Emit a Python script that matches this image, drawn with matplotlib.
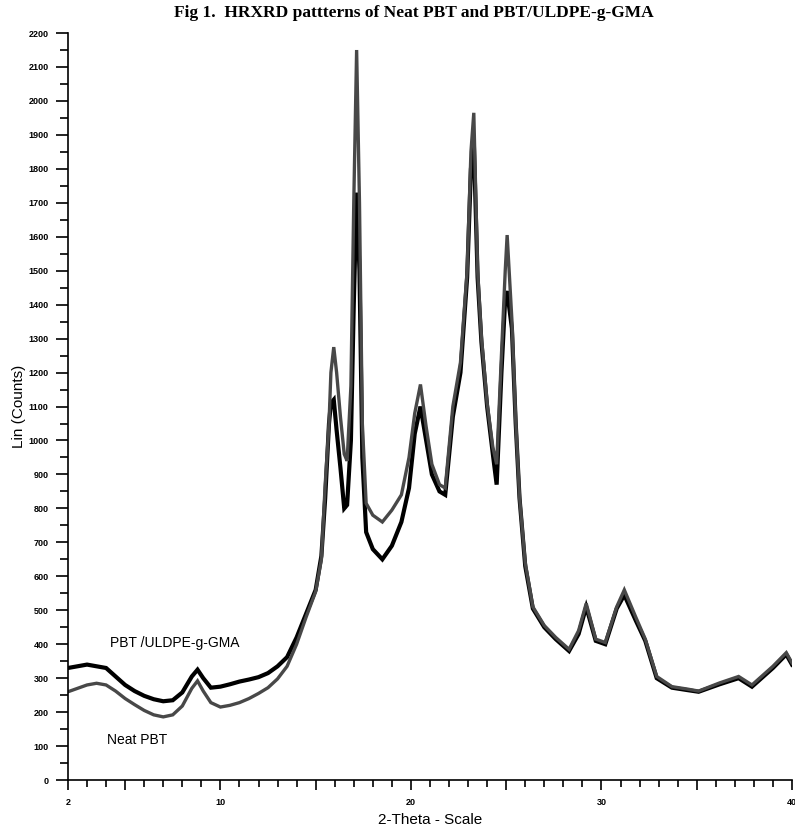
import numpy as np
import matplotlib
matplotlib.use('Agg')
import matplotlib.pyplot as plt
from matplotlib.ticker import MultipleLocator, FixedLocator

# 2-theta positions (deg) and counts
two_theta = [2.0, 2.5, 3.0, 3.5, 4.0, 4.5, 5.0, 5.5, 6.0, 6.5, 7.0, 7.5, 8.0, 8.5,
             8.8, 9.1, 9.5, 10.0, 10.5, 11.0, 11.5, 12.0, 12.5, 13.0, 13.5, 14.0,
             14.5, 15.0, 15.3, 15.5, 15.7, 15.8, 15.95, 16.1, 16.3, 16.5, 16.65,
             16.85, 17.0, 17.15, 17.3, 17.45, 17.65, 18.0, 18.5, 19.0, 19.5, 19.9,
             20.2, 20.5, 20.8, 21.1, 21.5, 21.8, 22.2, 22.6, 22.95, 23.15, 23.3,
             23.5, 23.7, 24.0, 24.3, 24.5, 24.75, 24.95, 25.05, 25.3, 25.5, 25.7,
             26.0, 26.4, 27.0, 27.6, 28.3, 28.8, 29.2, 29.7, 30.2, 30.8, 31.2,
             31.8, 32.3, 32.9, 33.7, 34.5, 35.1, 36.2, 37.2, 37.9, 38.5, 39.0,
             39.7, 40.0]

pbt_uldpe = [330, 335, 340, 335, 330, 305, 280, 262, 248, 238, 232, 235, 258, 305,
             325, 300, 272, 275, 282, 290, 296, 303, 315, 335, 362, 420,
             490, 560, 660, 830, 1050, 1110, 1120, 1030, 920, 800, 810,
             1000, 1400, 1730, 1500, 950, 730, 680, 650, 690, 760, 860,
             1020, 1100, 1000, 900, 850, 840, 1070, 1200, 1480, 1800, 1880,
             1480, 1290, 1100, 960, 870, 1200, 1420, 1440, 1330, 1050, 830,
             630, 505, 450, 415, 380, 430, 510, 410, 400, 505, 545,
             470, 410, 300, 272, 265, 260, 282, 300, 275, 305, 330,
             370, 340]

neat_pbt = [260, 270, 280, 285, 280, 262, 240, 222, 205, 192, 186, 192, 218, 270,
            292, 262, 228, 215, 220, 228, 240, 255, 272, 298, 335, 400,
            480, 555, 650, 870, 1050, 1200, 1275, 1200, 1070, 960, 940,
            1160, 1700, 2150, 1700, 1050, 815, 780, 760, 795, 840, 950,
            1080, 1165, 1040, 930, 870, 860, 1100, 1230, 1500, 1850, 1965,
            1500, 1305, 1110, 980, 930, 1250, 1500, 1605, 1355, 1060, 834,
            640, 510, 455, 420, 385, 440, 520, 415, 405, 510, 560,
            480, 415, 305, 275, 268, 262, 286, 305, 280, 310, 335,
            375, 345]

fig = plt.figure(figsize=(7.95, 8.34), dpi=100)
ax = fig.add_axes([0.0855, 0.0647, 0.9107, 0.8957])

ax.plot(two_theta, pbt_uldpe, color='black', lw=3.0, solid_joinstyle='miter')
ax.plot(two_theta, neat_pbt, color='#484848', lw=2.4, solid_joinstyle='miter')

ax.set_xlim(2, 40)
ax.set_ylim(0, 2200)

for s in ['top', 'right']:
    ax.spines[s].set_visible(False)
ax.spines['left'].set_linewidth(1.2)
ax.spines['bottom'].set_linewidth(1.2)

# y ticks
ax.yaxis.set_major_locator(MultipleLocator(100))
ax.yaxis.set_minor_locator(MultipleLocator(50))
ax.tick_params(axis='y', which='major', length=9, width=1.2, direction='out', pad=5)
ax.tick_params(axis='y', which='minor', length=6, width=1.2, direction='out')

# x ticks: long at 2 and every 5, short every 1
xmaj = [2, 5, 10, 15, 20, 25, 30, 35, 40]
ax.xaxis.set_major_locator(FixedLocator(xmaj))
ax.set_xticklabels(['2', '', '10', '', '20', '', '30', '', '40'])
ax.xaxis.set_minor_locator(MultipleLocator(1))
ax.tick_params(axis='x', which='major', length=7, width=1.2, direction='out', pad=6)
ax.tick_params(axis='x', which='minor', length=5, width=1.2, direction='out')

for lab in ax.get_xticklabels() + ax.get_yticklabels():
    lab.set_family('Liberation Sans')
    lab.set_fontsize(6.5)
    lab.set_fontweight('bold')

ax.set_ylabel('Lin (Counts)', family='Liberation Sans', fontsize=11, labelpad=2)
ax.set_xlabel('2-Theta - Scale', family='Liberation Sans', fontsize=11, labelpad=4)

ax.text(4.2, 403, 'PBT /ULDPE-g-GMA', family='Liberation Sans', fontsize=10,
        ha='left', va='center')
ax.text(4.05, 118, 'Neat PBT', family='Liberation Sans', fontsize=10,
        ha='left', va='center')

fig.text(0.52, 0.985, 'Fig 1.  HRXRD pattterns of Neat PBT and PBT/ULDPE-g-GMA',
         family='Liberation Serif', fontsize=12.5, fontweight='bold',
         ha='center', va='center')

fig.savefig('out.png', dpi=100)
